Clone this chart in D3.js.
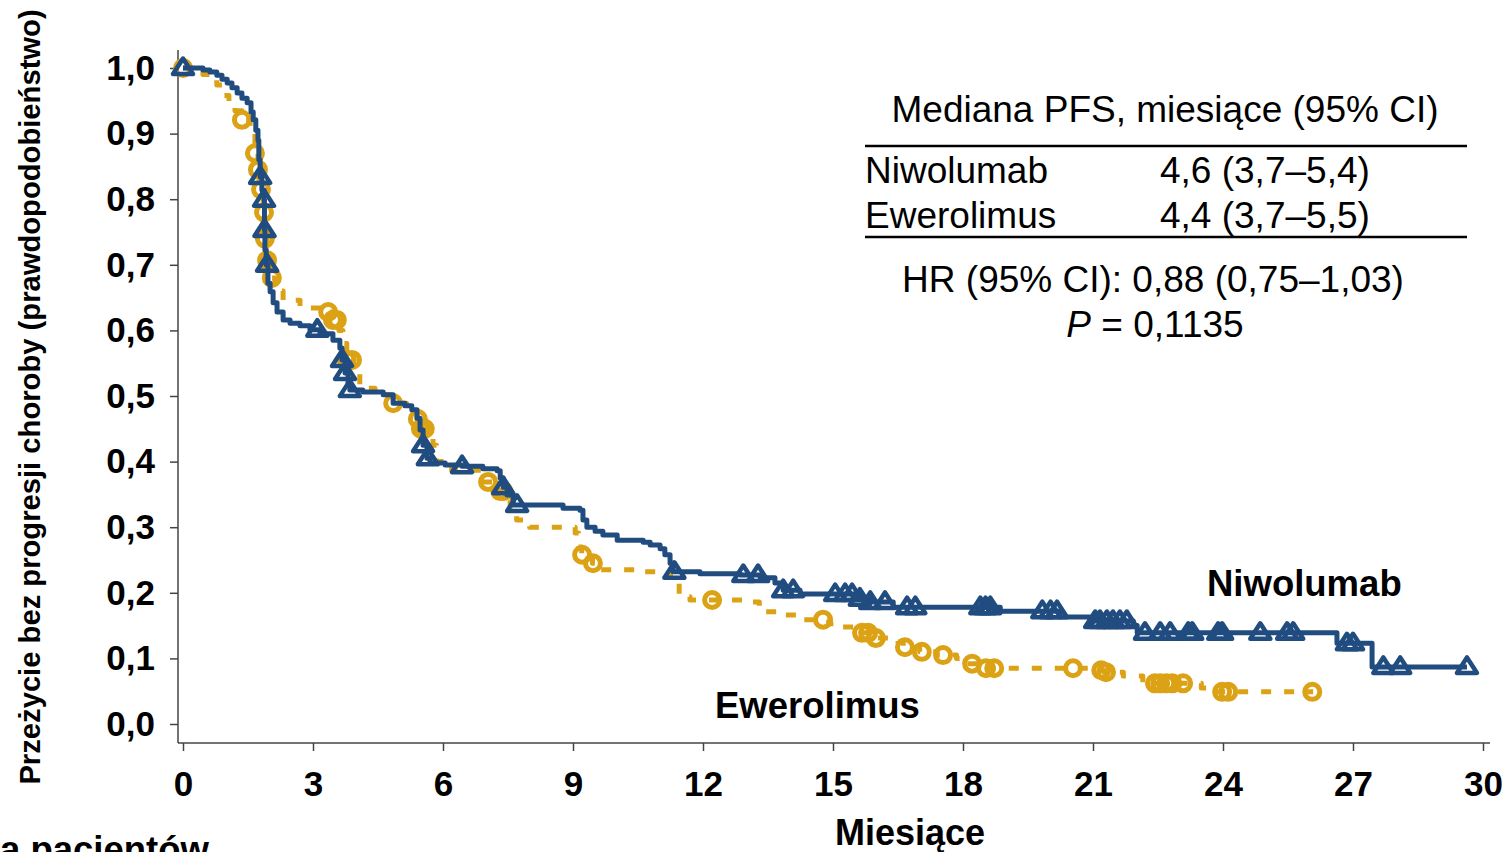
<!DOCTYPE html>
<html><head><meta charset="utf-8">
<script src="https://cdn.jsdelivr.net/npm/d3@7"></script>
<style>
html,body{margin:0;padding:0;background:#fff;overflow:hidden}
svg{display:block;font-family:"Liberation Sans",Arial,sans-serif}
</style></head>
<body>
<svg id="c" width="1511" height="852"></svg>
<script>
// ---- data (months, survival probability) ----
const xTicks = [0,3,6,9,12,15,18,21,24,27,30];
const yTicks = [0,0.1,0.2,0.3,0.4,0.5,0.6,0.7,0.8,0.9,1.0];

const niwoTimes = [0,0.46,0.62,0.78,0.9,1.02,1.13,1.25,1.36,1.48,1.57,1.62,1.68,1.73,1.75,1.78,1.82,1.87,1.88,1.89,1.92,1.96,2.01,2.08,2.17,2.31,2.47,2.70,2.93,3.16,3.46,3.62,3.67,3.74,3.81,3.85,4.15,4.62,4.85,5.12,5.28,5.40,5.47,5.54,5.63,5.70,6.05,6.44,6.92,7.25,7.32,7.39,7.48,7.62,8.77,9.16,9.23,9.32,9.51,9.69,10.02,10.62,10.78,11.01,11.12,11.24,11.31,11.93,12.86,13.32,13.66,13.85,14.24,15.58,15.86,16.39,18.86,20.24,20.93,21.93,22.02,26.63,27.44,29.63];
const niwoSurv  = [1.0,0.997,0.994,0.989,0.983,0.977,0.970,0.962,0.954,0.947,0.933,0.921,0.905,0.890,0.860,0.834,0.814,0.799,0.753,0.723,0.700,0.672,0.659,0.642,0.628,0.616,0.611,0.607,0.601,0.595,0.585,0.573,0.555,0.535,0.520,0.509,0.506,0.502,0.489,0.485,0.479,0.466,0.448,0.425,0.405,0.398,0.395,0.393,0.389,0.386,0.375,0.361,0.349,0.334,0.329,0.326,0.311,0.300,0.294,0.288,0.280,0.277,0.273,0.267,0.258,0.245,0.232,0.229,0.227,0.223,0.215,0.204,0.198,0.191,0.186,0.178,0.172,0.163,0.157,0.150,0.139,0.123,0.087,0.087];
const niwoCensor = [0,1.78,1.87,1.88,1.94,3.10,3.67,3.74,3.85,5.54,5.65,6.44,7.39,7.71,11.34,12.93,13.27,13.85,14.08,15.05,15.28,15.44,15.62,15.86,16.20,16.71,16.90,18.40,18.52,18.63,19.83,20.02,20.17,21.05,21.16,21.32,21.46,21.62,21.78,22.20,22.55,22.78,23.20,23.29,23.89,23.98,24.86,25.48,25.62,26.86,27.00,27.70,28.09,29.63];

const ewerTimes = [0,0.28,0.46,0.62,0.78,0.95,1.06,1.20,1.36,1.55,1.66,1.73,1.80,1.85,1.89,1.94,2.03,2.12,2.31,2.70,3.23,3.46,3.60,3.69,3.78,3.92,4.08,4.43,4.80,5.16,5.40,5.47,5.61,5.77,5.85,6.20,6.90,7.30,7.40,7.55,7.70,8.00,9.05,9.13,9.20,9.45,9.60,10.50,11.00,11.25,11.45,11.70,12.95,13.30,13.70,14.20,14.90,15.20,15.60,15.95,16.50,16.62,17.00,17.40,17.85,18.10,18.35,20.90,21.25,21.70,22.15,23.50,23.80,26.08];
const ewerSurv  = [1.0,0.995,0.990,0.982,0.974,0.958,0.946,0.935,0.921,0.901,0.870,0.845,0.815,0.780,0.740,0.707,0.680,0.660,0.646,0.634,0.628,0.616,0.600,0.580,0.555,0.535,0.512,0.502,0.489,0.482,0.465,0.450,0.435,0.425,0.400,0.387,0.369,0.355,0.341,0.320,0.311,0.300,0.291,0.270,0.258,0.245,0.235,0.232,0.230,0.215,0.194,0.189,0.186,0.171,0.166,0.159,0.153,0.148,0.139,0.131,0.125,0.117,0.110,0.105,0.100,0.092,0.085,0.082,0.079,0.073,0.062,0.055,0.049,0.049];
const ewerCensor = [0,1.36,1.66,1.73,1.80,1.87,1.89,1.94,2.05,3.35,3.46,3.55,3.78,3.90,4.85,5.42,5.49,5.58,7.04,7.32,7.39,9.21,9.46,12.21,14.77,15.67,15.81,15.99,16.66,17.05,17.54,18.21,18.53,18.72,20.54,21.19,21.30,22.43,22.55,22.69,22.83,23.08,23.98,24.12,26.06];

const series = [
  {name:"Ewerolimus", times:ewerTimes, surv:ewerSurv, censor:ewerCensor, color:"#dca215", dash:"10,13", mark:"circle"},
  {name:"Niwolumab", times:niwoTimes, surv:niwoSurv, censor:niwoCensor, color:"#214c80", dash:null, mark:"triangle"}
];

// ---- scales ----
const svg = d3.select("#c");
const x = d3.scaleLinear().domain([0,30]).range([183,1483]);
const y = d3.scaleLinear().domain([0,1]).range([724,68]);
const fmt = d => d3.format(".1f")(d).replace(".", ",");

// axes
const gy = svg.append("g").attr("transform","translate(178,0)")
  .call(d3.axisLeft(y).tickValues(yTicks).tickSize(8).tickSizeOuter(0).tickFormat(fmt));
gy.select(".domain").remove();
gy.selectAll(".tick line").attr("stroke","#444").attr("stroke-width",1.5);
gy.selectAll(".tick text").attr("x",-23).attr("font-size",35).attr("font-weight","bold")
  .attr("fill","#000").attr("font-family","Liberation Sans, Arial, sans-serif");

const gx = svg.append("g").attr("transform","translate(0,743)")
  .call(d3.axisBottom(x).tickValues(xTicks).tickSize(8).tickSizeOuter(0).tickFormat(d3.format("d")));
gx.select(".domain").remove();
gx.selectAll(".tick line").attr("stroke","#444").attr("stroke-width",1.5);
gx.selectAll(".tick text").attr("y",28).attr("font-size",35).attr("font-weight","bold")
  .attr("fill","#000").attr("font-family","Liberation Sans, Arial, sans-serif");

svg.append("line").attr("x1",178).attr("x2",178).attr("y1",50).attr("y2",743).attr("stroke","#444").attr("stroke-width",1.5);
svg.append("line").attr("x1",178).attr("x2",1490).attr("y1",743).attr("y2",743).attr("stroke","#444").attr("stroke-width",1.5);

// curves
const stepLine = d3.line().x(d=>x(d[0])).y(d=>y(d[1])).curve(d3.curveStepAfter);
const survAt = (s,t) => { const i = d3.bisectRight(s.times,t)-1; return s.surv[Math.max(0,i)]; };
const tri = "M0,-9.5L10,6L-10,6Z";

series.forEach(s => {
  const pts = s.times.map((t,i)=>[t,s.surv[i]]);
  svg.append("path").datum(pts).attr("d",stepLine).attr("fill","none")
    .attr("stroke",s.color).attr("stroke-width",5)
    .attr("stroke-dasharray",s.dash).attr("stroke-linejoin","round");
  const g = svg.append("g");
  if (s.mark==="circle") {
    g.selectAll("circle").data(s.censor).join("circle")
      .attr("cx",t=>x(t)).attr("cy",t=>y(survAt(s,t))).attr("r",7.5)
      .attr("fill","none").attr("stroke",s.color).attr("stroke-width",5);
  } else {
    g.selectAll("path").data(s.censor).join("path")
      .attr("d",tri).attr("transform",t=>`translate(${x(t)},${y(survAt(s,t))})`)
      .attr("fill","none").attr("stroke",s.color).attr("stroke-width",4.5).attr("stroke-linejoin","round");
  }
});

// titles
svg.append("text").attr("transform","translate(40,397) rotate(-90)").attr("text-anchor","middle")
  .attr("font-size",29.2).attr("font-weight","bold").text("Przeżycie bez progresji choroby (prawdopodobieństwo)");
svg.append("text").attr("x",910).attr("y",845).attr("text-anchor","middle")
  .attr("font-size",36).attr("font-weight","bold").text("Miesiące");
svg.append("text").attr("x",0).attr("y",862).attr("font-size",36.5).attr("font-weight","bold").text("a pacientów");

// series labels
svg.append("text").attr("x",1207).attr("y",596).attr("font-size",36.5).attr("font-weight","bold").text("Niwolumab");
svg.append("text").attr("x",715).attr("y",718).attr("font-size",36.5).attr("font-weight","bold").text("Ewerolimus");

// legend table
const lg = svg.append("g").attr("font-size",37);
lg.append("text").attr("x",1165).attr("y",122).attr("text-anchor","middle").text("Mediana PFS, miesiące (95% CI)");
lg.append("line").attr("x1",865).attr("x2",1467).attr("y1",146).attr("y2",146).attr("stroke","#000").attr("stroke-width",2.5);
lg.append("text").attr("x",865).attr("y",183).text("Niwolumab");
lg.append("text").attr("x",1160).attr("y",183).text("4,6 (3,7–5,4)");
lg.append("text").attr("x",865).attr("y",228).text("Ewerolimus");
lg.append("text").attr("x",1160).attr("y",228).text("4,4 (3,7–5,5)");
lg.append("line").attr("x1",865).attr("x2",1467).attr("y1",237).attr("y2",237).attr("stroke","#000").attr("stroke-width",2.5);
lg.append("text").attr("x",1153).attr("y",292).attr("text-anchor","middle").text("HR (95% CI): 0,88 (0,75–1,03)");
const pt = lg.append("text").attr("x",1155).attr("y",337).attr("text-anchor","middle");
pt.append("tspan").attr("font-style","italic").text("P");
pt.append("tspan").text(" = 0,1135");
</script>
</body></html>
